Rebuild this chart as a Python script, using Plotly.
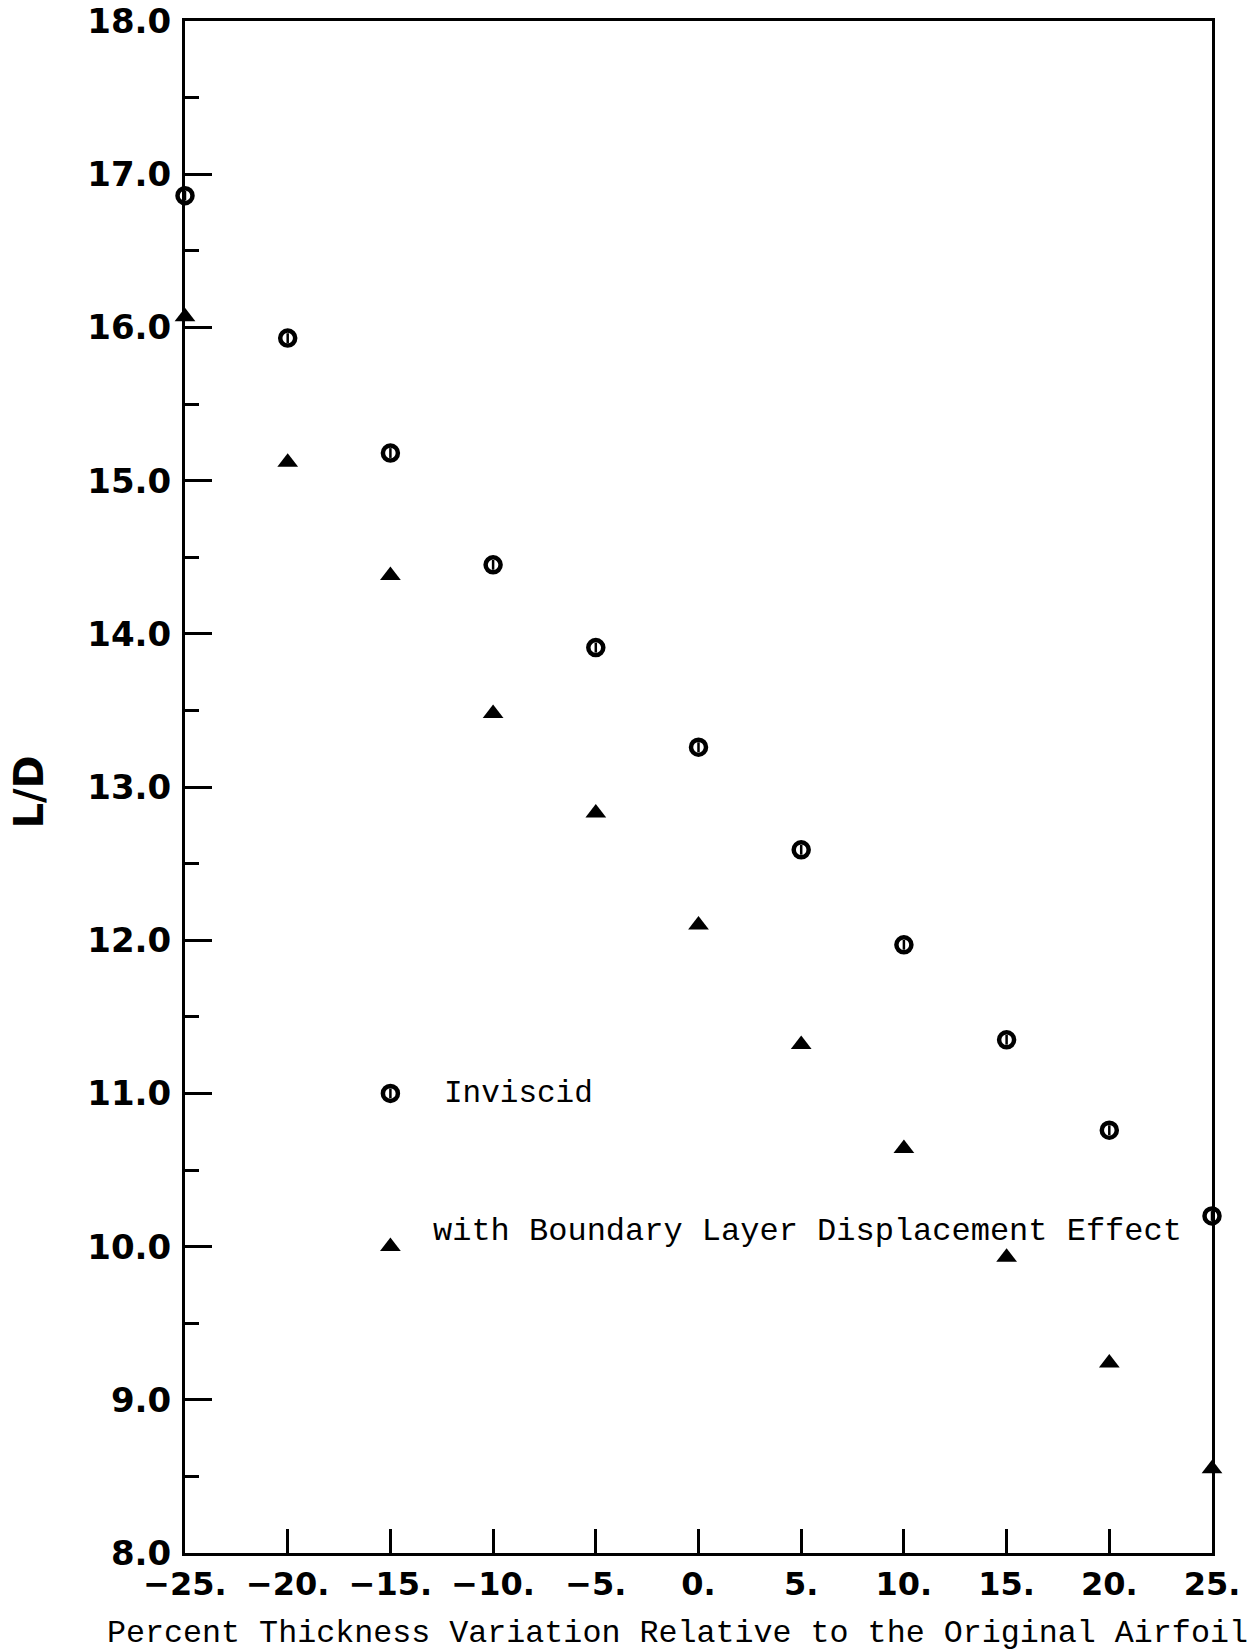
import plotly.graph_objects as go

# ---- data ----
thickness = [-25, -20, -15, -10, -5, 0, 5, 10, 15, 20, 25]
inviscid = [16.86, 15.93, 15.18, 14.45, 13.91, 13.26, 12.59, 11.97, 11.35, 10.76, 10.20]
boundary = [16.07, 15.12, 14.38, 13.48, 12.83, 12.10, 11.32, 10.64, 9.93, 9.24, 8.55]
x_tick_vals = [-25, -20, -15, -10, -5, 0, 5, 10, 15, 20, 25]
x_tick_text = ["\u221225.", "\u221220.", "\u221215.", "\u221210.", "\u22125.", "0.", "5.", "10.", "15.", "20.", "25."]
y_tick_vals = [8, 9, 10, 11, 12, 13, 14, 15, 16, 17, 18]
legend_x = [-15, -15]
legend_y = [11.0, 10.0]
legend_labels = ["Inviscid", "with Boundary Layer Displacement Effect"]

MONO = "Liberation Mono, DejaVu Sans Mono, monospace"
SANS = "DejaVu Sans, Liberation Sans, sans-serif"

fig = go.Figure()

def circle_marker(xs, ys):
    fig.add_trace(go.Scatter(x=xs, y=ys, mode="markers", cliponaxis=False,
                             marker=dict(symbol="circle-open", size=15, color="black",
                                         line=dict(width=4.5, color="black")),
                             showlegend=False, hoverinfo="skip"))
    fig.add_trace(go.Scatter(x=xs, y=ys, mode="markers", cliponaxis=False,
                             marker=dict(symbol="line-ns-open", size=7, color="black",
                                         line=dict(width=2.5, color="black")),
                             showlegend=False, hoverinfo="skip"))

def tri_marker(xs, ys):
    fig.add_trace(go.Scatter(x=xs, y=ys, mode="markers", cliponaxis=False,
                             marker=dict(symbol="triangle-up", size=18, color="black",
                                         line=dict(width=0)),
                             showlegend=False, hoverinfo="skip"))

circle_marker(thickness, inviscid)
tri_marker(thickness, boundary)
circle_marker([legend_x[0]], [legend_y[0]])
tri_marker([legend_x[1]], [legend_y[1]])

fig.add_annotation(x=-12.5, y=legend_y[0], xref="x", yref="y", text=legend_labels[0],
                   showarrow=False, xanchor="left", yanchor="middle",
                   font=dict(family=MONO, size=31, color="black"))
fig.add_annotation(x=-13.0, y=legend_y[1] + 0.1, xref="x", yref="y", text=legend_labels[1],
                   showarrow=False, xanchor="left", yanchor="middle",
                   font=dict(family=MONO, size=32, color="black"))

# axis titles
fig.add_annotation(x=-0.078, y=-0.053, xref="paper", yref="paper",
                   text="Percent Thickness Variation Relative to the Original Airfoil",
                   showarrow=False, xanchor="left", yanchor="middle",
                   font=dict(family=MONO, size=31.7, color="black"))
fig.add_annotation(x=-0.152, y=0.497, xref="paper", yref="paper", text="<b>L/D</b>",
                   textangle=-90, showarrow=False, xanchor="center", yanchor="middle",
                   font=dict(family=SANS, size=40, color="black"))

fig.update_xaxes(range=[-25, 25], tickmode="array", tickvals=x_tick_vals, ticktext=x_tick_text,
                 ticks="inside", ticklen=24, tickwidth=2.5, tickcolor="black",
                 showline=True, linewidth=3, linecolor="black", mirror=True,
                 showgrid=False, zeroline=False, ticklabelstandoff=1, automargin=False,
                 tickfont=dict(family=SANS, size=32, color="black", weight="bold"))
fig.update_yaxes(range=[8, 18], tickmode="array", tickvals=y_tick_vals, tickformat=".1f",
                 ticks="inside", ticklen=27, tickwidth=2.5, tickcolor="black",
                 minor=dict(ticks="inside", ticklen=14, tickwidth=2.5, tickcolor="black", dtick=0.5),
                 showline=True, linewidth=3, linecolor="black", mirror=True,
                 showgrid=False, zeroline=False, ticklabelstandoff=4, automargin=False,
                 tickfont=dict(family=SANS, size=34, color="black", weight="bold"))

fig.update_layout(width=1260, height=1652, margin=dict(l=185, r=48, t=21, b=99),
                  plot_bgcolor="white", paper_bgcolor="white", showlegend=False)

fig.write_html("out.html")
